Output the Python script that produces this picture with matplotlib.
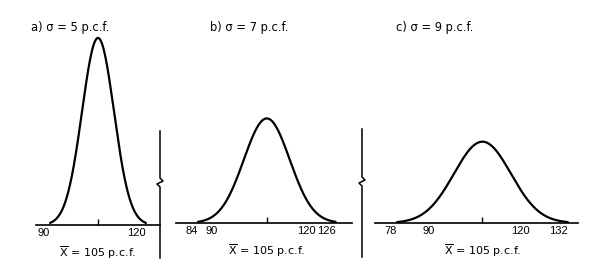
import numpy as np
import matplotlib
matplotlib.use("Agg")
import matplotlib.pyplot as plt
from matplotlib.lines import Line2D
from matplotlib import transforms

# ---- data ----
panel_labels = ["a)", "b)", "c)"]
means = [105, 105, 105]                 # p.c.f.
sigmas = [5, 7, 9]                      # p.c.f.
tick_vals = [[90, 105, 120], [84, 105, 120, 126], [78, 105, 120, 132]]
label_vals = [[90, 120], [84, 90, 120, 126], [78, 90, 120, 132]]
mean_label = r"$\overline{\mathrm{X}}$" + " = 105 p.c.f."

plt.rcParams['font.family'] = ['DejaVu Sans']
plt.rcParams['mathtext.fontset'] = 'dejavusans'

W, H = 600, 280
fig = plt.figure(figsize=(6, 2.8), dpi=100)
fig.patch.set_facecolor('white')

def px(l, r, base, top):
    return [l / W, (H - base) / H, (r - l) / W, (base - top) / H]

# axes layout (pixels) and x / y limits
layouts = [px(36, 160, 225, 25), px(176, 352, 223, 23), px(375, 578, 223, 23)]
xlims = [(85.6, 124.4), (77.3, 131.0), (71.05, 135.2)]
ymaxes = [0.0853, 0.1090, 0.1090]
title_pos = [(31, 28), (210, 28), (396, 27)]

for i in range(3):
    ax = fig.add_axes(layouts[i])
    mu, s = means[i], sigmas[i]
    x = np.linspace(mu - 3 * s, mu + 3 * s, 400)
    y = np.exp(-0.5 * ((x - mu) / s) ** 2) / (s * np.sqrt(2 * np.pi))
    ax.plot(x, y, color='black', lw=1.6, solid_capstyle='round')
    ax.set_xlim(*xlims[i])
    ax.set_ylim(0, ymaxes[i])
    for sp in ['top', 'left', 'right']:
        ax.spines[sp].set_visible(False)
    ax.spines['bottom'].set_linewidth(1.2)
    ax.set_yticks([])
    ax.set_xticks(label_vals[i], [str(v) for v in label_vals[i]])
    ax.tick_params(axis='x', which='major', length=0, pad=2.5, labelsize=8)
    ax.set_xticks(tick_vals[i], minor=True)
    ax.tick_params(axis='x', which='minor', direction='in', length=4, width=1.0)
    for lab in ax.get_xticklabels():
        lab.set_family('Liberation Sans')
        lab.set_horizontalalignment('right')
    ax.patch.set_alpha(0)
    # mean label below axis
    ax.text(mu, -0.14, mean_label,
            transform=transforms.blended_transform_factory(ax.transData, ax.transAxes),
            ha='center', va='center', fontsize=8)
    tx, ty = title_pos[i]
    fig.text(tx / W, 1 - ty / H, f"{panel_labels[i]} σ = {sigmas[i]} p.c.f.",
             ha='left', va='center', fontsize=8.3)

# break lines between panels
def break_line(xp, top, bot, zy):
    xs = [xp, xp, xp + 3, xp - 3, xp, xp]
    ys = [top, zy - 4, zy - 1, zy + 2, zy + 5, bot]
    fig.add_artist(Line2D([v / W for v in xs], [1 - v / H for v in ys],
                          transform=fig.transFigure, color='black', lw=1.1))

break_line(160, 131, 258, 182)
break_line(362, 129, 257, 181)

fig.savefig("out.png", dpi=100, facecolor='white')
